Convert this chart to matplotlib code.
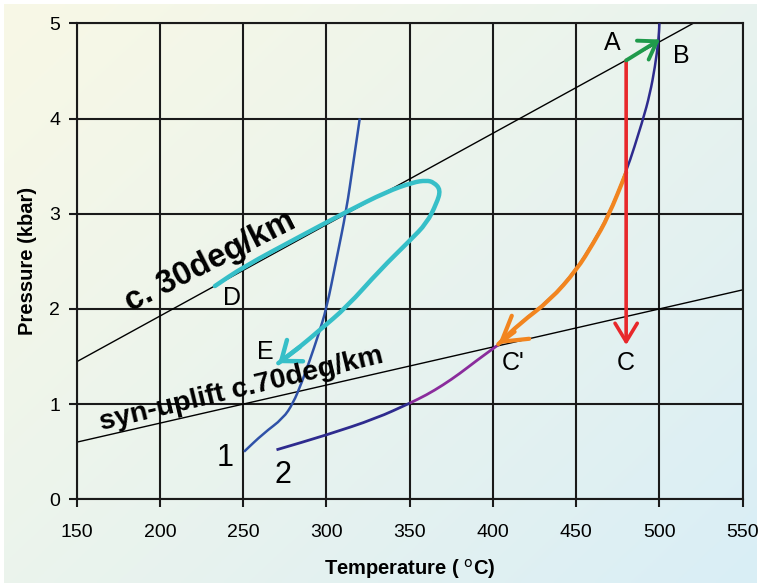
import numpy as np
import matplotlib
matplotlib.use("Agg")
import matplotlib.pyplot as plt
from matplotlib.colors import to_rgb
from matplotlib.path import Path
from matplotlib.patches import PathPatch

plt.rcParams['font.family'] = ['Liberation Sans', 'DejaVu Sans']

# Axis ticks
x_ticks = [150, 200, 250, 300, 350, 400, 450, 500, 550]
y_ticks = [0, 1, 2, 3, 4, 5]

# Geotherms (straight lines, T in degC, P in kbar)
geo30_T = [150, 520.3]
geo30_P = [1.445, 5.0]
geo70_T = [150, 550]
geo70_P = [0.6, 2.2]

# Reaction curve 1
curve1_T = [250.5, 262, 274, 280, 285, 290, 295, 300, 306, 312, 316, 320]
curve1_P = [0.5, 0.69, 0.85, 1.01, 1.22, 1.46, 1.72, 2.0, 2.52, 3.04, 3.52, 4.0]

# Reaction curve 2 (lower, indigo part)
curve2a_T = [270, 300, 330, 350]
curve2a_P = [0.52, 0.675, 0.85, 1.01]
# Reaction curve 2 (purple part up to C')
curve2b_T = [350, 360, 370, 380, 390, 403]
curve2b_P = [1.01, 1.095, 1.2, 1.32, 1.455, 1.62]
# Reaction curve 2 (upper part, C' to top)
curve2c_T = [403, 416, 434, 450, 460, 469, 480, 490, 494.3, 497.3, 499.5, 500]
curve2c_P = [1.62, 1.85, 2.09, 2.41, 2.69, 2.97, 3.43, 3.98, 4.26, 4.54, 4.83, 5.0]

# P-T paths
pt_A = (480, 4.61)
pt_B = (500.3, 4.83)
pt_C = (480, 1.62)
orange_T = [480, 469.3, 460.3, 450.3, 434.3, 416.3, 403.2]
orange_P = [3.43, 2.97, 2.69, 2.41, 2.09, 1.85, 1.63]
cyan_T = [233, 250, 284, 312, 336, 352, 360, 364.5, 368.6, 366.2, 360.2, 350.2, 332.2, 312.2, 296.1, 284, 271.1]
cyan_P = [2.24, 2.44, 2.76, 3.02, 3.23, 3.33, 3.35, 3.33, 3.25, 3.11, 2.90, 2.72, 2.41, 2.02, 1.78, 1.60, 1.43]

# Point labels
labels = {
    'A': (471.7, 4.79), 'B': (513.4, 4.66), 'C': (480, 1.43), "C'": (412, 1.43),
    'D': (243, 2.11), 'E': (263, 1.55),
}
num_labels = {'1': (239, 0.43), '2': (274, 0.26)}


def smooth_line(ax, xs, ys, **kw):
    """Draw a polyline with its corners rounded by quadratic Bezier segments."""
    pts = np.column_stack([xs, ys])
    verts = [pts[0]]
    codes = [Path.MOVETO]
    if len(pts) > 2:
        verts.append((pts[0] + pts[1]) / 2)
        codes.append(Path.LINETO)
        for i in range(1, len(pts) - 1):
            verts += [pts[i], (pts[i] + pts[i + 1]) / 2]
            codes += [Path.CURVE3, Path.CURVE3]
    verts.append(pts[-1])
    codes.append(Path.LINETO)
    patch = PathPatch(Path(verts, codes), facecolor='none', **kw)
    ax.add_patch(patch)
    return patch


W, H = 761, 587
fig = plt.figure(figsize=(W / 100, H / 100), dpi=100)

# Soft diagonal background gradient (pale yellow to pale blue)
bg = fig.add_axes([4 / W, 4 / H, 1 - 8 / W, 1 - 8 / H], zorder=-10)
c0 = np.array(to_rgb('#f8f8e6'))
c1 = np.array(to_rgb('#d9eef6'))
yy, xx = np.mgrid[0:1:200j, 0:1:260j]
t = np.clip(0.55 * xx + 0.45 * yy, 0, 1)[..., None]
t = t ** 1.1
img = c0 * (1 - t) + c1 * t
bg.imshow(img, aspect='auto', extent=[0, 1, 0, 1], origin='upper')
bg.axis('off')

ax = fig.add_axes([76.7 / W, 1 - 499.3 / H, (742.7 - 76.7) / W, (499.3 - 23.3) / H])
ax.set_facecolor('none')
ax.set_xlim(150, 550)
ax.set_ylim(0, 5)
ax.set_xticks(x_ticks)
ax.set_yticks(y_ticks)
ax.grid(True, color='#1a1a1a', linewidth=1.5, zorder=0)
for s in ax.spines.values():
    s.set_color('#1a1a1a')
    s.set_linewidth(1.5)
ax.tick_params(axis='both', direction='out', length=6, width=1.5, color='#1a1a1a',
               labelsize=14, pad=6)
ax.tick_params(axis='x', pad=12)
ax.set_xlabel('Temperature ( $^{\\mathrm{o}}$C)', fontsize=14.5, fontweight='bold', labelpad=11)
ax.set_ylabel('Pressure (kbar)', fontsize=14.5, fontweight='bold', labelpad=9)

# Geotherms
ax.plot(geo30_T, geo30_P, color='black', lw=1.0, zorder=2)
ax.plot(geo70_T, geo70_P, color='black', lw=1.0, zorder=2)

# Reaction curves
smooth_line(ax, curve1_T, curve1_P, edgecolor='#2f52a8', lw=1.8, zorder=3)
smooth_line(ax, curve2a_T, curve2a_P, edgecolor='#2e2b8e', lw=2.0, zorder=3)
smooth_line(ax, curve2b_T, curve2b_P, edgecolor='#8a2c9c', lw=2.0, zorder=3)
smooth_line(ax, curve2c_T, curve2c_P, edgecolor='#2e2b8e', lw=1.8, zorder=3)

arrow_kw = dict(shrinkA=0, shrinkB=0, mutation_scale=20)

# A -> C (isothermal decompression) and A -> B
ax.annotate('', xy=pt_C, xytext=pt_A,
            arrowprops=dict(arrowstyle='->,head_length=0.66,head_width=0.4',
                            color='#e8282b', lw=2.6, **arrow_kw), zorder=5)
ax.annotate('', xy=pt_B, xytext=pt_A,
            arrowprops=dict(arrowstyle='->,head_length=0.6,head_width=0.4',
                            color='#1f9a4b', lw=2.8, **arrow_kw), zorder=5)

# Path along curve 2 towards C'
smooth_line(ax, orange_T, orange_P, edgecolor='#f2851f', lw=3.0, zorder=4, capstyle='round')
ax.annotate('', xy=(orange_T[-1], orange_P[-1]), xytext=(413.0, 1.76),
            arrowprops=dict(arrowstyle='->,head_length=0.86,head_width=0.52',
                            color='#f2851f', lw=3.0, **arrow_kw), zorder=4)

# Loop D -> E
smooth_line(ax, cyan_T, cyan_P, edgecolor='#36bfc8', lw=3.2, zorder=4, capstyle='round')
ax.annotate('', xy=(cyan_T[-1], cyan_P[-1]), xytext=(cyan_T[-2], cyan_P[-2]),
            arrowprops=dict(arrowstyle='->,head_length=0.62,head_width=0.48',
                            color='#36bfc8', lw=3.2, **arrow_kw), zorder=4)

# Geotherm labels
ax.text(230, 2.5, 'c. 30deg/km', rotation=27, fontsize=23.5, fontweight='bold',
        ha='center', va='center', zorder=6, rotation_mode='anchor')
ax.text(249, 1.15, 'syn-uplift c.70deg/km', rotation=13.5, fontsize=20.5, fontweight='bold',
        ha='center', va='center', zorder=6, rotation_mode='anchor')

for k, (x, y) in labels.items():
    ax.text(x, y, k, fontsize=18, ha='center', va='center', zorder=6)
for k, (x, y) in num_labels.items():
    ax.text(x, y, k, fontsize=22, ha='center', va='center', zorder=6)

fig.savefig('out.png', dpi=100)
